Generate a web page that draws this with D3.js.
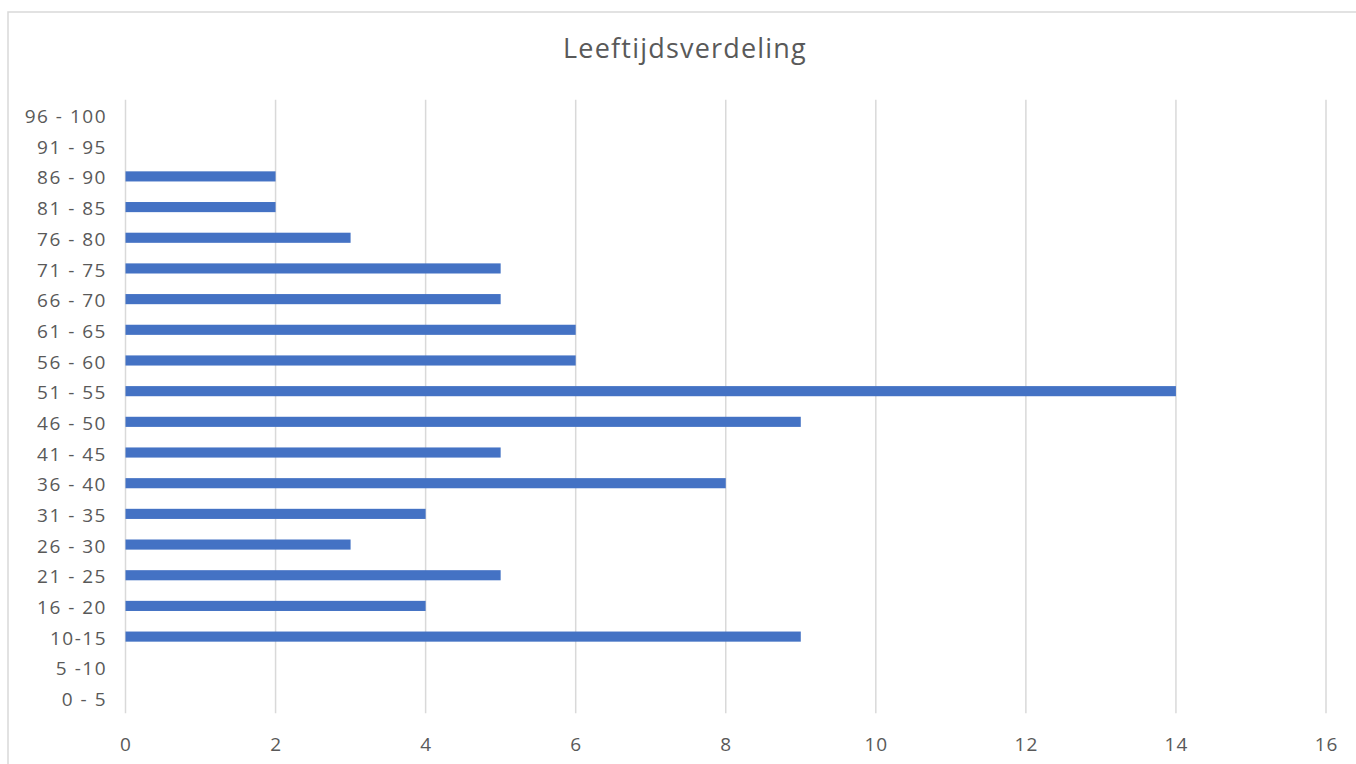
<!DOCTYPE html>
<html lang="nl">
<head>
  <meta charset="UTF-8">
  <title>Leeftijdsverdeling</title>
  <script src="https://cdn.jsdelivr.net/npm/d3@7"></script>
  <style>
    body { margin: 0; background: #fff; }
    text { font-family: "Open Sans", sans-serif; fill: #595959; }
  </style>
</head>
<body>
  <script>
    // leeftijdsgroepen van boven naar beneden
    const categories = ['96 - 100', '91 - 95', '86 - 90', '81 - 85', '76 - 80', '71 - 75',
      '66 - 70', '61 - 65', '56 - 60', '51 - 55', '46 - 50', '41 - 45', '36 - 40',
      '31 - 35', '26 - 30', '21 - 25', '16 - 20', '10-15', '5 -10', '0 - 5'];
    const counts = [0, 0, 2, 2, 3, 5, 5, 6, 6, 14, 9, 5, 8, 4, 3, 5, 4, 9, 0, 0];
    const xTicks = [0, 2, 4, 6, 8, 10, 12, 14, 16];
    const title = 'Leeftijdsverdeling';

    const W = 1356, H = 764;
    const svg = d3.select('body').append('svg')
      .attr('width', W).attr('height', H);

    // kader van de grafiek
    svg.append('rect')
      .attr('x', 8).attr('y', 12)
      .attr('width', W + 20).attr('height', H + 20)
      .attr('fill', '#fff').attr('stroke', '#d9d9d9').attr('stroke-width', 1.5);

    svg.append('text')
      .attr('x', 685).attr('y', 58)
      .attr('text-anchor', 'middle')
      .style('font-size', '27px')
      .style('letter-spacing', '1.2px')
      .text(title);

    const x = d3.scaleLinear().domain([0, 16]).range([125.5, 1326]);
    const y = d3.scaleBand().domain(categories).range([99.7, 713.3]).paddingInner(0.67).paddingOuter(0.335);

    // rasterlijnen
    svg.append('g').selectAll('line').data(xTicks).join('line')
      .attr('x1', d => x(d)).attr('x2', d => x(d))
      .attr('y1', 99.7).attr('y2', 713.3)
      .attr('stroke', '#d9d9d9').attr('stroke-width', 1.5);

    // x-as
    const xAxis = svg.append('g')
      .attr('transform', 'translate(0,713.3)')
      .call(d3.axisBottom(x).tickValues(xTicks).tickSize(0).tickPadding(24));
    xAxis.select('.domain').remove();
    xAxis.selectAll('text').style('font-size', '19px').style('letter-spacing', '1px').attr('fill', '#595959');

    // y-as
    const yAxis = svg.append('g')
      .attr('transform', 'translate(107,2)')
      .call(d3.axisLeft(y).tickSize(0).tickPadding(0));
    yAxis.select('.domain').remove();
    yAxis.selectAll('text').style('font-size', '19px').style('letter-spacing', '1.5px').attr('fill', '#595959');

    // balken
    svg.append('g').selectAll('rect').data(counts).join('rect')
      .attr('x', x(0))
      .attr('y', (d, i) => y(categories[i]))
      .attr('width', d => x(d) - x(0))
      .attr('height', y.bandwidth())
      .attr('fill', '#4472c4');
  </script>
</body>
</html>
